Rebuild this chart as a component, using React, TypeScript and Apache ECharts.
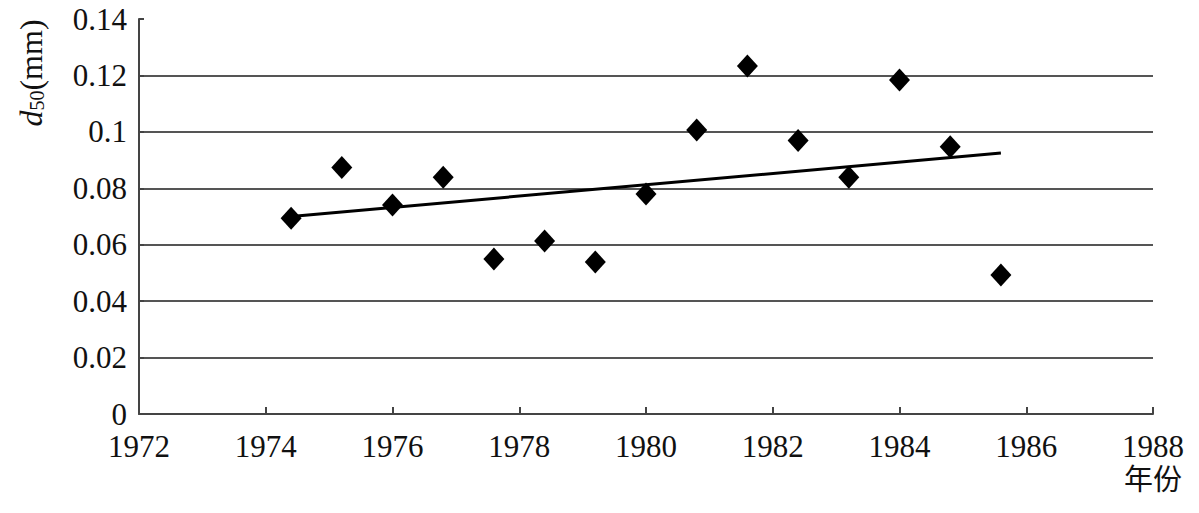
import React, { useEffect, useRef } from "react";
import * as echarts from "echarts";

const years = [1974.4, 1975.2, 1976.0, 1976.8, 1977.6, 1978.4, 1979.2, 1980.0, 1980.8, 1981.6, 1982.4, 1983.2, 1984.0, 1984.8, 1985.6];
const d50 = [0.0694, 0.0874, 0.0741, 0.0839, 0.0549, 0.0613, 0.0539, 0.078, 0.1007, 0.1233, 0.0969, 0.0839, 0.1184, 0.0947, 0.0493];
const trendX = [1974.4, 1985.6];
const trendY = [0.0700, 0.0925];

const FONT = "Liberation Serif, Noto Sans CJK SC, serif";

export default function App() {
  const ref = useRef<HTMLDivElement>(null);
  useEffect(() => {
    const chart = echarts.init(ref.current!, null, { renderer: "svg" });
    chart.setOption({
      animation: false,
      backgroundColor: "#ffffff",
      grid: { left: 139, right: 46, top: 19, bottom: 99 },
      xAxis: {
        type: "value",
        min: 1972,
        max: 1988,
        interval: 2,
        axisLine: { show: true, lineStyle: { color: "#444", width: 2 } },
        axisTick: { show: true, inside: true, length: 7, lineStyle: { color: "#444", width: 2 } },
        splitLine: { show: false },
        axisLabel: { color: "#111", fontSize: 31, fontFamily: FONT, margin: 17, formatter: (v: number) => String(v) },
      },
      yAxis: {
        type: "value",
        min: 0,
        max: 0.14,
        interval: 0.02,
        axisLine: { show: true, lineStyle: { color: "#444", width: 2 } },
        axisTick: { show: true, inside: true, length: 5, lineStyle: { color: "#444", width: 2 } },
        splitLine: { show: true, showMinLine: false, showMaxLine: false, lineStyle: { color: "#555", width: 2 } },
        axisLabel: { color: "#111", fontSize: 31, fontFamily: FONT, margin: 12, formatter: (v: number) => String(+v.toFixed(2)) },
      },
      graphic: [
        {
          type: "text",
          x: 31,
          y: 73,
          rotation: Math.PI / 2,
          style: {
            text: "{d|d}{s|50}{n|(mm)}",
            align: "center",
            verticalAlign: "middle",
            fill: "#111",
            font: `32px ${FONT}`,
            rich: {
              d: { fontSize: 32, fontStyle: "italic", fontFamily: FONT, fill: "#111", verticalAlign: "middle" },
              s: { fontSize: 20, fontFamily: FONT, fill: "#111", verticalAlign: "bottom" },
              n: { fontSize: 32, fontFamily: FONT, fill: "#111", verticalAlign: "middle" },
            },
          },
        },
        {
          type: "text",
          x: 1153,
          y: 480,
          style: { text: "年份", align: "center", verticalAlign: "middle", fill: "#111", font: `29px ${FONT}` },
        },
      ],
      series: [
        {
          type: "scatter",
          data: years.map((x, i) => [x, d50[i]]),
          symbol: "diamond",
          symbolSize: [21, 23],
          itemStyle: { color: "#000", opacity: 1 },
          z: 3,
        },
        {
          type: "line",
          data: trendX.map((x, i) => [x, trendY[i]]),
          showSymbol: false,
          symbol: "none",
          lineStyle: { color: "#000", width: 3 },
          z: 4,
        },
      ],
    });
    return () => chart.dispose();
  }, []);
  return <div ref={ref} style={{ position: "fixed", left: 0, top: 0, width: 1199, height: 513, background: "#fff" }} />;
}
